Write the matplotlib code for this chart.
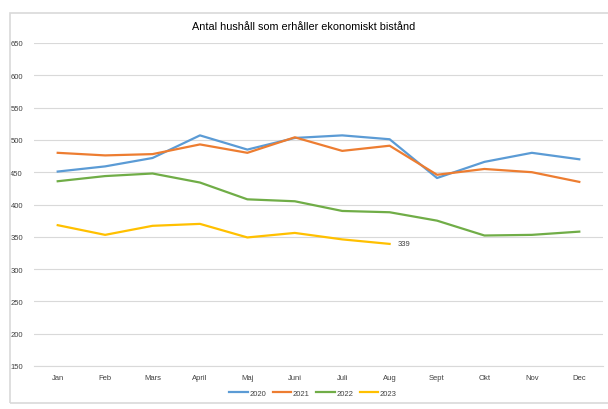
import matplotlib
matplotlib.use('Agg')
import matplotlib.pyplot as plt
from matplotlib.patches import Rectangle

months = ['Jan', 'Feb', 'Mars', 'April', 'Maj', 'Juni', 'Juli', 'Aug', 'Sept', 'Okt', 'Nov', 'Dec']
v2020 = [451, 459, 472, 507, 485, 503, 507, 501, 441, 466, 480, 470]
v2021 = [480, 476, 478, 493, 480, 504, 483, 491, 446, 455, 450, 435]
v2022 = [436, 444, 448, 434, 408, 405, 390, 388, 375, 352, 353, 358]
v2023 = [368, 353, 367, 370, 349, 356, 346, 339]
yticks = list(range(150, 651, 50))

plt.rcParams['font.family'] = ['Liberation Sans', 'DejaVu Sans']

fig = plt.figure(figsize=(6.08, 4.10), dpi=100)
# ram runt diagrammet
fig.patches.append(Rectangle((10 / 608, 1 - 404 / 410), 620 / 608, 390 / 410,
                             transform=fig.transFigure, fill=False,
                             edgecolor='#D9D9D9', linewidth=1.2))
ax = fig.add_axes([34 / 608, 1 - 367 / 410, 569 / 608, 323 / 410])

x = list(range(len(months)))
ax.plot(x, v2020, color='#5B9BD5', lw=1.6, label='2020')
ax.plot(x, v2021, color='#ED7D31', lw=1.6, label='2021')
ax.plot(x, v2022, color='#70AD47', lw=1.6, label='2022')
ax.plot(x[:len(v2023)], v2023, color='#FFC000', lw=1.6, label='2023')
ax.annotate(str(v2023[-1]), (len(v2023) - 1, v2023[-1]), xytext=(6, 0),
            textcoords='offset points', fontsize=5.5, va='center', color='#404040')

ax.set_xlim(-0.5, 11.5)
ax.set_ylim(150, 650)
ax.set_yticks(yticks)
ax.set_xticks(x)
ax.set_xticklabels(months)
ax.tick_params(length=0, labelsize=5.5, colors='#404040')
ax.tick_params(axis='x', pad=6)
ax.tick_params(axis='y', pad=8)
ax.grid(axis='y', color='#D9D9D9', lw=0.8)
ax.axhline(150, color='#D9D9D9', lw=0.8, clip_on=False, zorder=0)
ax.set_axisbelow(True)
for s in ax.spines.values():
    s.set_visible(False)

fig.text(0.5, 1 - 27 / 410, 'Antal hushåll som erhåller ekonomiskt bistånd',
         ha='center', va='center', fontsize=7.8, color='#000000')
fig.legend(loc='center', bbox_to_anchor=(0.515, 1 - 394 / 410), ncol=4, frameon=False,
           fontsize=5.5, handlelength=2.4, handletextpad=0.2, columnspacing=0.9,
           labelcolor='#404040')

plt.savefig('out.png', dpi=100)
